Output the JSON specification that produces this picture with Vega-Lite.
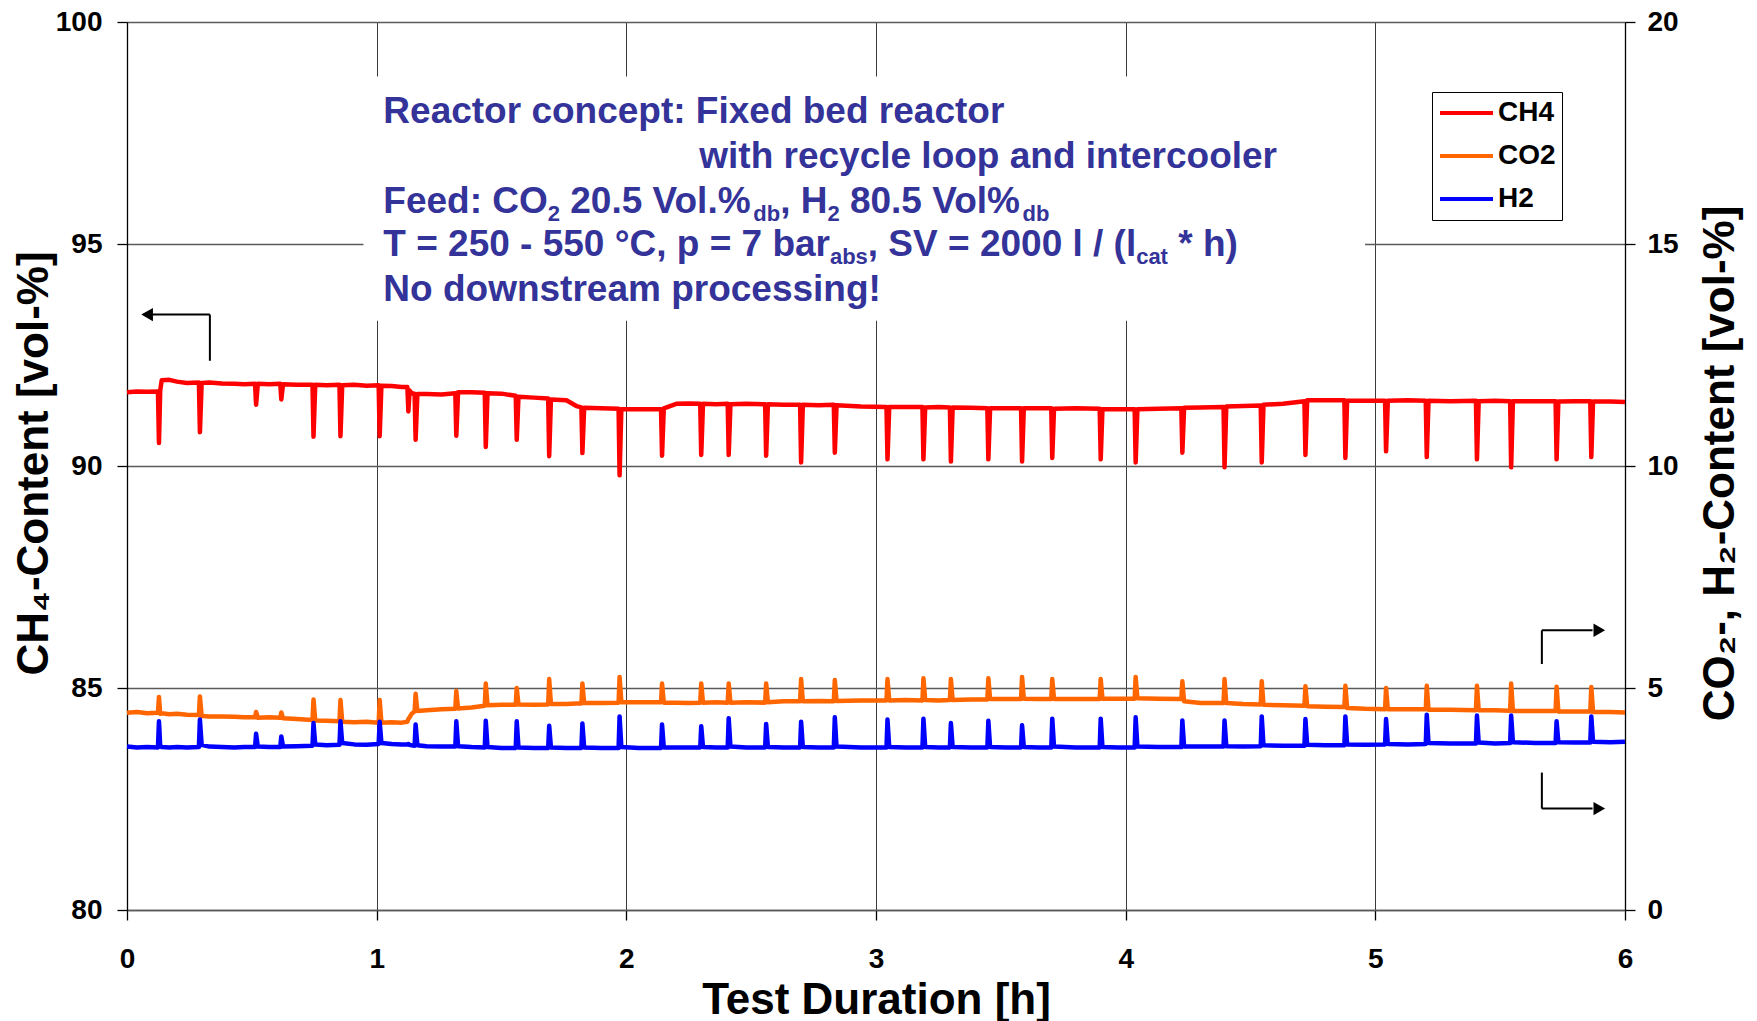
{
  "$schema": "https://vega.github.io/schema/vega-lite/v6.json",
  "width": 1498,
  "height": 888,
  "autosize": {"type": "none"},
  "padding": {"left": 127, "top": 22, "right": 132, "bottom": 111},
  "background": "white",
  "datasets": {
    "series": [
      {"t":0.000,"CH4":91.66,"CO2":4.44,"H2":3.68},
      {"t":0.040,"CH4":91.68,"CO2":4.46,"H2":3.66},
      {"t":0.080,"CH4":91.67,"CO2":4.43,"H2":3.67},
      {"t":0.124,"CH4":91.68,"CO2":4.44,"H2":3.66},
      {"t":0.128,"CH4":90.52,"CO2":4.80,"H2":4.25},
      {"t":0.133,"CH4":91.70,"CO2":4.42,"H2":3.70},
      {"t":0.139,"CH4":91.93,"CO2":4.43,"H2":3.67},
      {"t":0.170,"CH4":91.94,"CO2":4.41,"H2":3.66},
      {"t":0.200,"CH4":91.90,"CO2":4.42,"H2":3.67},
      {"t":0.240,"CH4":91.87,"CO2":4.40,"H2":3.66},
      {"t":0.288,"CH4":91.88,"CO2":4.39,"H2":3.67},
      {"t":0.292,"CH4":90.76,"CO2":4.81,"H2":4.29},
      {"t":0.299,"CH4":91.87,"CO2":4.37,"H2":3.72},
      {"t":0.330,"CH4":91.88,"CO2":4.36,"H2":3.68},
      {"t":0.380,"CH4":91.86,"CO2":4.36,"H2":3.67},
      {"t":0.430,"CH4":91.85,"CO2":4.35,"H2":3.66},
      {"t":0.470,"CH4":91.84,"CO2":4.34,"H2":3.67},
      {"t":0.513,"CH4":91.85,"CO2":4.34,"H2":3.67},
      {"t":0.517,"CH4":91.38,"CO2":4.46,"H2":3.97},
      {"t":0.524,"CH4":91.85,"CO2":4.33,"H2":3.68},
      {"t":0.570,"CH4":91.84,"CO2":4.34,"H2":3.67},
      {"t":0.614,"CH4":91.85,"CO2":4.33,"H2":3.67},
      {"t":0.618,"CH4":91.50,"CO2":4.45,"H2":3.91},
      {"t":0.625,"CH4":91.84,"CO2":4.32,"H2":3.68},
      {"t":0.680,"CH4":91.83,"CO2":4.30,"H2":3.69},
      {"t":0.743,"CH4":91.83,"CO2":4.28,"H2":3.70},
      {"t":0.747,"CH4":90.66,"CO2":4.74,"H2":4.21},
      {"t":0.754,"CH4":91.83,"CO2":4.27,"H2":3.73},
      {"t":0.800,"CH4":91.82,"CO2":4.26,"H2":3.71},
      {"t":0.851,"CH4":91.83,"CO2":4.25,"H2":3.72},
      {"t":0.855,"CH4":90.67,"CO2":4.73,"H2":4.25},
      {"t":0.862,"CH4":91.82,"CO2":4.24,"H2":3.76},
      {"t":0.910,"CH4":91.83,"CO2":4.23,"H2":3.73},
      {"t":0.960,"CH4":91.81,"CO2":4.24,"H2":3.72},
      {"t":1.008,"CH4":91.82,"CO2":4.22,"H2":3.74},
      {"t":1.012,"CH4":90.67,"CO2":4.73,"H2":4.24},
      {"t":1.019,"CH4":91.81,"CO2":4.22,"H2":3.76},
      {"t":1.060,"CH4":91.80,"CO2":4.23,"H2":3.74},
      {"t":1.100,"CH4":91.78,"CO2":4.22,"H2":3.73},
      {"t":1.123,"CH4":91.78,"CO2":4.24,"H2":3.73},
      {"t":1.127,"CH4":91.23,"CO2":4.30,"H2":3.74},
      {"t":1.132,"CH4":91.70,"CO2":4.34,"H2":3.72},
      {"t":1.140,"CH4":91.64,"CO2":4.42,"H2":3.71},
      {"t":1.152,"CH4":91.63,"CO2":4.47,"H2":3.70},
      {"t":1.156,"CH4":90.59,"CO2":4.87,"H2":4.18},
      {"t":1.163,"CH4":91.62,"CO2":4.48,"H2":3.71},
      {"t":1.200,"CH4":91.62,"CO2":4.50,"H2":3.69},
      {"t":1.260,"CH4":91.61,"CO2":4.52,"H2":3.68},
      {"t":1.315,"CH4":91.64,"CO2":4.53,"H2":3.68},
      {"t":1.319,"CH4":90.68,"CO2":4.93,"H2":4.25},
      {"t":1.326,"CH4":91.66,"CO2":4.54,"H2":3.69},
      {"t":1.380,"CH4":91.66,"CO2":4.56,"H2":3.67},
      {"t":1.433,"CH4":91.65,"CO2":4.60,"H2":3.66},
      {"t":1.437,"CH4":90.43,"CO2":5.10,"H2":4.26},
      {"t":1.444,"CH4":91.64,"CO2":4.61,"H2":3.67},
      {"t":1.500,"CH4":91.63,"CO2":4.62,"H2":3.65},
      {"t":1.557,"CH4":91.58,"CO2":4.62,"H2":3.65},
      {"t":1.561,"CH4":90.59,"CO2":5.00,"H2":4.25},
      {"t":1.568,"CH4":91.56,"CO2":4.63,"H2":3.66},
      {"t":1.630,"CH4":91.54,"CO2":4.62,"H2":3.65},
      {"t":1.687,"CH4":91.52,"CO2":4.63,"H2":3.65},
      {"t":1.691,"CH4":90.22,"CO2":5.20,"H2":4.15},
      {"t":1.698,"CH4":91.50,"CO2":4.64,"H2":3.66},
      {"t":1.760,"CH4":91.48,"CO2":4.64,"H2":3.65},
      {"t":1.800,"CH4":91.35,"CO2":4.65,"H2":3.65},
      {"t":1.820,"CH4":91.32,"CO2":4.65,"H2":3.65},
      {"t":1.824,"CH4":90.29,"CO2":5.10,"H2":4.20},
      {"t":1.831,"CH4":91.31,"CO2":4.66,"H2":3.66},
      {"t":1.900,"CH4":91.30,"CO2":4.66,"H2":3.65},
      {"t":1.969,"CH4":91.29,"CO2":4.67,"H2":3.65},
      {"t":1.973,"CH4":89.79,"CO2":5.25,"H2":4.36},
      {"t":1.980,"CH4":91.28,"CO2":4.68,"H2":3.67},
      {"t":2.050,"CH4":91.28,"CO2":4.68,"H2":3.65},
      {"t":2.139,"CH4":91.28,"CO2":4.68,"H2":3.65},
      {"t":2.143,"CH4":90.23,"CO2":5.10,"H2":4.18},
      {"t":2.150,"CH4":91.30,"CO2":4.67,"H2":3.66},
      {"t":2.200,"CH4":91.40,"CO2":4.67,"H2":3.66},
      {"t":2.250,"CH4":91.41,"CO2":4.66,"H2":3.66},
      {"t":2.296,"CH4":91.40,"CO2":4.67,"H2":3.66},
      {"t":2.300,"CH4":90.25,"CO2":5.10,"H2":4.14},
      {"t":2.307,"CH4":91.40,"CO2":4.67,"H2":3.67},
      {"t":2.360,"CH4":91.39,"CO2":4.68,"H2":3.66},
      {"t":2.406,"CH4":91.40,"CO2":4.67,"H2":3.66},
      {"t":2.410,"CH4":90.25,"CO2":5.10,"H2":4.32},
      {"t":2.417,"CH4":91.39,"CO2":4.67,"H2":3.68},
      {"t":2.480,"CH4":91.40,"CO2":4.68,"H2":3.66},
      {"t":2.556,"CH4":91.39,"CO2":4.67,"H2":3.66},
      {"t":2.560,"CH4":90.23,"CO2":5.10,"H2":4.19},
      {"t":2.567,"CH4":91.39,"CO2":4.68,"H2":3.67},
      {"t":2.630,"CH4":91.38,"CO2":4.70,"H2":3.66},
      {"t":2.696,"CH4":91.38,"CO2":4.70,"H2":3.66},
      {"t":2.700,"CH4":90.08,"CO2":5.20,"H2":4.24},
      {"t":2.707,"CH4":91.38,"CO2":4.70,"H2":3.67},
      {"t":2.770,"CH4":91.37,"CO2":4.71,"H2":3.66},
      {"t":2.831,"CH4":91.38,"CO2":4.70,"H2":3.66},
      {"t":2.835,"CH4":90.30,"CO2":5.18,"H2":4.34},
      {"t":2.842,"CH4":91.37,"CO2":4.71,"H2":3.68},
      {"t":2.940,"CH4":91.34,"CO2":4.72,"H2":3.66},
      {"t":3.042,"CH4":91.33,"CO2":4.72,"H2":3.66},
      {"t":3.046,"CH4":90.15,"CO2":5.20,"H2":4.29},
      {"t":3.053,"CH4":91.33,"CO2":4.72,"H2":3.67},
      {"t":3.120,"CH4":91.33,"CO2":4.73,"H2":3.66},
      {"t":3.186,"CH4":91.33,"CO2":4.72,"H2":3.66},
      {"t":3.190,"CH4":90.15,"CO2":5.22,"H2":4.31},
      {"t":3.197,"CH4":91.32,"CO2":4.73,"H2":3.67},
      {"t":3.250,"CH4":91.33,"CO2":4.72,"H2":3.66},
      {"t":3.296,"CH4":91.32,"CO2":4.73,"H2":3.66},
      {"t":3.300,"CH4":90.10,"CO2":5.20,"H2":4.21},
      {"t":3.307,"CH4":91.32,"CO2":4.73,"H2":3.67},
      {"t":3.380,"CH4":91.31,"CO2":4.74,"H2":3.66},
      {"t":3.446,"CH4":91.30,"CO2":4.74,"H2":3.66},
      {"t":3.450,"CH4":90.15,"CO2":5.22,"H2":4.26},
      {"t":3.457,"CH4":91.30,"CO2":4.75,"H2":3.67},
      {"t":3.520,"CH4":91.30,"CO2":4.75,"H2":3.66},
      {"t":3.581,"CH4":91.30,"CO2":4.75,"H2":3.66},
      {"t":3.585,"CH4":90.10,"CO2":5.25,"H2":4.16},
      {"t":3.592,"CH4":91.30,"CO2":4.76,"H2":3.67},
      {"t":3.650,"CH4":91.30,"CO2":4.75,"H2":3.66},
      {"t":3.702,"CH4":91.30,"CO2":4.75,"H2":3.66},
      {"t":3.706,"CH4":90.18,"CO2":5.20,"H2":4.31},
      {"t":3.713,"CH4":91.29,"CO2":4.75,"H2":3.68},
      {"t":3.800,"CH4":91.30,"CO2":4.75,"H2":3.66},
      {"t":3.896,"CH4":91.29,"CO2":4.75,"H2":3.66},
      {"t":3.900,"CH4":90.15,"CO2":5.20,"H2":4.31},
      {"t":3.907,"CH4":91.28,"CO2":4.76,"H2":3.67},
      {"t":3.970,"CH4":91.28,"CO2":4.76,"H2":3.66},
      {"t":4.036,"CH4":91.28,"CO2":4.76,"H2":3.66},
      {"t":4.040,"CH4":90.08,"CO2":5.25,"H2":4.34},
      {"t":4.047,"CH4":91.28,"CO2":4.77,"H2":3.68},
      {"t":4.130,"CH4":91.29,"CO2":4.76,"H2":3.67},
      {"t":4.223,"CH4":91.30,"CO2":4.75,"H2":3.67},
      {"t":4.227,"CH4":90.30,"CO2":5.15,"H2":4.27},
      {"t":4.234,"CH4":91.31,"CO2":4.70,"H2":3.68},
      {"t":4.300,"CH4":91.32,"CO2":4.66,"H2":3.68},
      {"t":4.392,"CH4":91.33,"CO2":4.66,"H2":3.68},
      {"t":4.396,"CH4":89.97,"CO2":5.20,"H2":4.27},
      {"t":4.403,"CH4":91.34,"CO2":4.66,"H2":3.69},
      {"t":4.470,"CH4":91.35,"CO2":4.64,"H2":3.68},
      {"t":4.541,"CH4":91.36,"CO2":4.63,"H2":3.69},
      {"t":4.545,"CH4":90.08,"CO2":5.15,"H2":4.36},
      {"t":4.552,"CH4":91.38,"CO2":4.62,"H2":3.71},
      {"t":4.630,"CH4":91.40,"CO2":4.61,"H2":3.70},
      {"t":4.716,"CH4":91.46,"CO2":4.60,"H2":3.70},
      {"t":4.720,"CH4":90.25,"CO2":5.04,"H2":4.30},
      {"t":4.727,"CH4":91.48,"CO2":4.59,"H2":3.72},
      {"t":4.800,"CH4":91.48,"CO2":4.58,"H2":3.71},
      {"t":4.876,"CH4":91.48,"CO2":4.57,"H2":3.71},
      {"t":4.880,"CH4":90.18,"CO2":5.05,"H2":4.36},
      {"t":4.887,"CH4":91.47,"CO2":4.55,"H2":3.73},
      {"t":4.960,"CH4":91.47,"CO2":4.53,"H2":3.72},
      {"t":5.039,"CH4":91.47,"CO2":4.52,"H2":3.73},
      {"t":5.043,"CH4":90.33,"CO2":5.00,"H2":4.30},
      {"t":5.050,"CH4":91.47,"CO2":4.52,"H2":3.74},
      {"t":5.130,"CH4":91.48,"CO2":4.52,"H2":3.73},
      {"t":5.202,"CH4":91.47,"CO2":4.52,"H2":3.74},
      {"t":5.206,"CH4":90.20,"CO2":5.05,"H2":4.40},
      {"t":5.213,"CH4":91.47,"CO2":4.51,"H2":3.76},
      {"t":5.300,"CH4":91.46,"CO2":4.51,"H2":3.75},
      {"t":5.403,"CH4":91.47,"CO2":4.50,"H2":3.75},
      {"t":5.407,"CH4":90.15,"CO2":5.05,"H2":4.38},
      {"t":5.414,"CH4":91.46,"CO2":4.50,"H2":3.77},
      {"t":5.480,"CH4":91.47,"CO2":4.50,"H2":3.75},
      {"t":5.540,"CH4":91.46,"CO2":4.49,"H2":3.76},
      {"t":5.544,"CH4":89.97,"CO2":5.10,"H2":4.38},
      {"t":5.551,"CH4":91.46,"CO2":4.48,"H2":3.78},
      {"t":5.640,"CH4":91.46,"CO2":4.48,"H2":3.76},
      {"t":5.722,"CH4":91.46,"CO2":4.48,"H2":3.76},
      {"t":5.726,"CH4":90.15,"CO2":5.03,"H2":4.25},
      {"t":5.733,"CH4":91.45,"CO2":4.47,"H2":3.78},
      {"t":5.800,"CH4":91.46,"CO2":4.47,"H2":3.77},
      {"t":5.861,"CH4":91.46,"CO2":4.47,"H2":3.77},
      {"t":5.865,"CH4":90.20,"CO2":5.02,"H2":4.36},
      {"t":5.872,"CH4":91.45,"CO2":4.46,"H2":3.79},
      {"t":5.940,"CH4":91.45,"CO2":4.46,"H2":3.78},
      {"t":6.000,"CH4":91.44,"CO2":4.45,"H2":3.79}
    ],
    "notes": [
      {"x":1.0267,"y":97.727,"text":"Reactor concept: Fixed bed reactor"},
      {"x":2.2921,"y":96.721,"text":"with recycle loop and intercooler"},
      {"x":1.0267,"y":95.707,"text":"Feed: CO"},
      {"x":1.7755,"y":95.707,"text":"20.5 Vol.%"},
      {"x":2.6160,"y":95.707,"text":", H"},
      {"x":2.8955,"y":95.707,"text":"80.5 Vol%"},
      {"x":1.0267,"y":94.725,"text":"T = 250 - 550 °C, p = 7 bar"},
      {"x":2.9672,"y":94.725,"text":", SV = 2000 l / (l"},
      {"x":4.2105,"y":94.725,"text":"* h)"},
      {"x":1.0267,"y":93.716,"text":"No downstream processing!"}
    ],
    "subs": [
      {"x":1.6854,"y":95.527,"text":"2"},
      {"x":2.5083,"y":95.527,"text":"db"},
      {"x":2.8054,"y":95.527,"text":"2"},
      {"x":3.5871,"y":95.527,"text":"db"},
      {"x":2.8154,"y":94.545,"text":"abs"},
      {"x":4.0420,"y":94.545,"text":"cat"}
    ]
  },
  "layer": [
    {
      "layer": [
        {
          "data": {"values": [{"x0":0.947,"x1":4.959,"y0":93.27,"y1":98.77}]},
          "mark": {"type": "rect", "fill": "white", "stroke": null},
          "encoding": {
            "x": {"field": "x0", "type": "quantitative", "scale": {"domain": [0, 6], "nice": false, "zero": false}, "axis": {"title": "Test Duration [h]"}},
            "x2": {"field": "x1"},
            "y": {"field": "y0", "type": "quantitative", "scale": {"domain": [80, 100], "nice": false, "zero": false}, "axis": {"orient": "left", "title": "CH₄-Content [vol-%]"}},
            "y2": {"field": "y1"}
          }
        },
        {
          "data": {"name": "series"},
          "mark": {"type": "line", "strokeWidth": 4.5, "strokeJoin": "round"},
          "encoding": {
            "x": {"field": "t", "type": "quantitative", "scale": {"domain": [0, 6], "nice": false, "zero": false},
              "axis": {"values": [0,1,2,3,4,5,6], "format": "d", "title": "Test Duration [h]", "grid": true, "gridColor": "#3c3c3c", "gridWidth": 1,
                "tickSize": 10, "labelPadding": 25, "labelFlush": false, "labelOverlap": false, "domainColor": "#5a5a5a",
                "titleBaseline": "alphabetic", "titleY": 103, "titleX": 749, "titleAlign": "center"}},
            "y": {"field": "CH4", "type": "quantitative", "scale": {"domain": [80, 100], "nice": false, "zero": false},
              "axis": {"orient": "left", "values": [80,85,90,95,100], "title": "CH₄-Content [vol-%]", "grid": true, "gridColor": "#5a5a5a", "gridWidth": 1.3,
                "tickSize": 10, "labelPadding": 15, "labelOverlap": false, "labelFlush": false,
                "titleAngle": 270, "titleBaseline": "alphabetic", "titleAlign": "center", "titleX": -80, "titleY": 441}},
            "color": {"datum": "CH4", "type": "nominal",
              "scale": {"domain": ["CH4", "CO2", "H2"], "range": ["#ff0000", "#ff6600", "#0000ff"]},
              "legend": {"orient": "none", "legendX": 1305, "legendY": 70, "title": null}}
          }
        },
        {
          "data": {"values": [
            {"x":0.332,"y":92.37,"x2":0.332,"y2":93.41},
            {"x":0.332,"y":93.41,"x2":0.085,"y2":93.41}
          ]},
          "mark": {"type": "rule", "color": "black", "strokeWidth": 2},
          "encoding": {
            "x": {"field": "x", "type": "quantitative", "scale": {"domain": [0, 6], "nice": false, "zero": false}, "axis": {"title": "Test Duration [h]"}},
            "x2": {"field": "x2"},
            "y": {"field": "y", "type": "quantitative", "scale": {"domain": [80, 100], "nice": false, "zero": false}, "axis": {"orient": "left", "title": "CH₄-Content [vol-%]"}},
            "y2": {"field": "y2"}
          }
        },
        {
          "data": {"values": [{"x":0.0805,"y":93.41}]},
          "mark": {"type": "point", "shape": "triangle-left", "filled": true, "color": "black", "size": 180, "opacity": 1},
          "encoding": {
            "x": {"field": "x", "type": "quantitative", "scale": {"domain": [0, 6], "nice": false, "zero": false}, "axis": {"title": "Test Duration [h]"}},
            "y": {"field": "y", "type": "quantitative", "scale": {"domain": [80, 100], "nice": false, "zero": false}, "axis": {"orient": "left", "title": "CH₄-Content [vol-%]"}}
          }
        },
        {
          "data": {"name": "notes"},
          "mark": {"type": "text", "align": "left", "baseline": "alphabetic", "font": "Liberation Sans", "fontWeight": "bold", "fontSize": 37, "color": "#333399"},
          "encoding": {
            "x": {"field": "x", "type": "quantitative", "scale": {"domain": [0, 6], "nice": false, "zero": false}, "axis": {"title": "Test Duration [h]"}},
            "y": {"field": "y", "type": "quantitative", "scale": {"domain": [80, 100], "nice": false, "zero": false}, "axis": {"orient": "left", "title": "CH₄-Content [vol-%]"}},
            "text": {"field": "text"}
          }
        },
        {
          "data": {"name": "subs"},
          "mark": {"type": "text", "align": "left", "baseline": "alphabetic", "font": "Liberation Sans", "fontWeight": "bold", "fontSize": 22, "color": "#333399"},
          "encoding": {
            "x": {"field": "x", "type": "quantitative", "scale": {"domain": [0, 6], "nice": false, "zero": false}, "axis": {"title": "Test Duration [h]"}},
            "y": {"field": "y", "type": "quantitative", "scale": {"domain": [80, 100], "nice": false, "zero": false}, "axis": {"orient": "left", "title": "CH₄-Content [vol-%]"}},
            "text": {"field": "text"}
          }
        }
      ]
    },
    {
      "layer": [
        {
          "data": {"name": "series"},
          "transform": [{"fold": ["CO2", "H2"], "as": ["series", "value"]}],
          "mark": {"type": "line", "strokeWidth": 4.5, "strokeJoin": "round"},
          "encoding": {
            "x": {"field": "t", "type": "quantitative", "scale": {"domain": [0, 6], "nice": false, "zero": false}, "axis": {"title": "Test Duration [h]"}},
            "y": {"field": "value", "type": "quantitative", "scale": {"domain": [0, 20], "nice": false, "zero": false},
              "axis": {"orient": "right", "values": [0,5,10,15,20], "title": "CO₂-, H₂-Content [vol-%]", "grid": false,
                "tickSize": 10, "labelPadding": 12, "labelOverlap": false, "labelFlush": false,
                "titleAngle": 270, "titleBaseline": "alphabetic", "titleAlign": "center", "titleX": 108, "titleY": 441}},
            "color": {"field": "series", "type": "nominal",
              "scale": {"domain": ["CH4", "CO2", "H2"], "range": ["#ff0000", "#ff6600", "#0000ff"]},
              "legend": {"orient": "none", "legendX": 1305, "legendY": 70, "title": null}}
          }
        },
        {
          "data": {"values": [
            {"x":5.667,"y":5.54,"x2":5.667,"y2":6.30},
            {"x":5.667,"y":6.30,"x2":5.87,"y2":6.30},
            {"x":5.667,"y":3.095,"x2":5.667,"y2":2.284},
            {"x":5.667,"y":2.284,"x2":5.87,"y2":2.284}
          ]},
          "mark": {"type": "rule", "color": "black", "strokeWidth": 2},
          "encoding": {
            "x": {"field": "x", "type": "quantitative", "scale": {"domain": [0, 6], "nice": false, "zero": false}, "axis": {"title": "Test Duration [h]"}},
            "x2": {"field": "x2"},
            "y": {"field": "y", "type": "quantitative", "scale": {"domain": [0, 20], "nice": false, "zero": false}, "axis": {"orient": "right", "title": "CO₂-, H₂-Content [vol-%]"}},
            "y2": {"field": "y2"}
          }
        },
        {
          "data": {"values": [{"x":5.897,"y":6.30},{"x":5.897,"y":2.284}]},
          "mark": {"type": "point", "shape": "triangle-right", "filled": true, "color": "black", "size": 180, "opacity": 1},
          "encoding": {
            "x": {"field": "x", "type": "quantitative", "scale": {"domain": [0, 6], "nice": false, "zero": false}, "axis": {"title": "Test Duration [h]"}},
            "y": {"field": "y", "type": "quantitative", "scale": {"domain": [0, 20], "nice": false, "zero": false}, "axis": {"orient": "right", "title": "CO₂-, H₂-Content [vol-%]"}}
          }
        }
      ]
    }
  ],
  "resolve": {"scale": {"y": "independent"}, "axis": {"y": "independent"}},
  "config": {
    "view": {"stroke": null},
    "font": "Liberation Sans",
    "axis": {
      "labelFont": "Liberation Sans", "labelFontWeight": "bold", "labelFontSize": 28, "labelColor": "#000000",
      "titleFont": "Liberation Sans", "titleFontWeight": "bold", "titleFontSize": 44, "titleColor": "#000000",
      "domainColor": "#000000", "domainWidth": 1.3, "tickColor": "#000000", "tickWidth": 1.3
    },
    "legend": {
      "symbolType": "stroke", "symbolSize": 2809, "symbolStrokeWidth": 4,
      "labelFont": "Liberation Sans", "labelFontWeight": "bold", "labelFontSize": 28, "labelColor": "#000000",
      "labelOffset": 3, "clipHeight": 30, "rowPadding": 13, "padding": 6,
      "strokeColor": "#000000", "fillColor": "#ffffff"
    }
  }
}
